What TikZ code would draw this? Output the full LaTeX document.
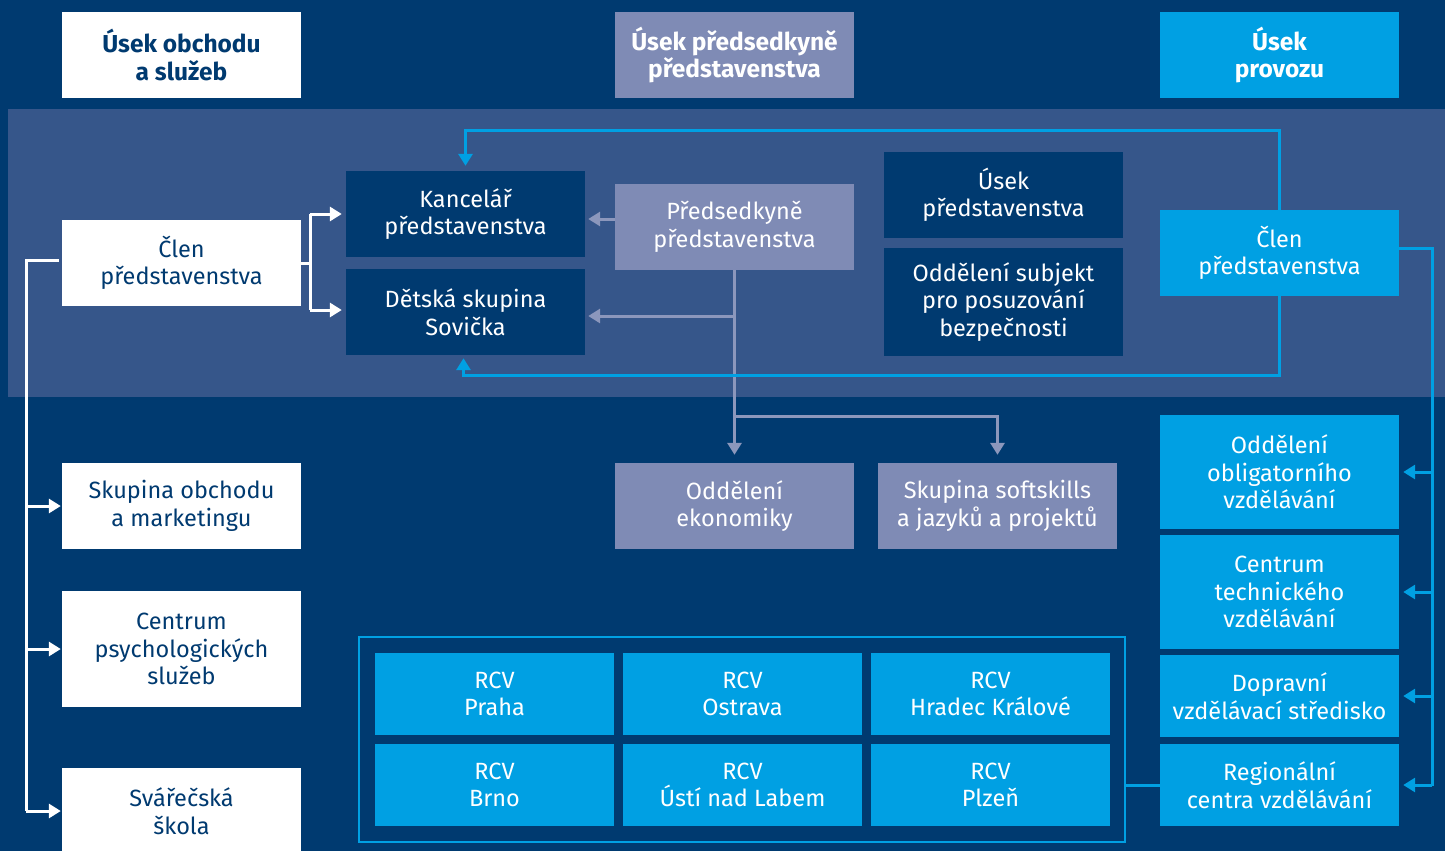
\documentclass[tikz,border=0pt]{standalone}
\usepackage{fontspec}
\setmainfont{Fira Sans}
\usetikzlibrary{arrows.meta}

\definecolor{navy}{RGB}{0,58,112}
\definecolor{band}{RGB}{54,86,138}
\definecolor{lilac}{RGB}{127,139,181}
\definecolor{sky}{RGB}{0,160,227}

\tikzset{
	box/.style={rectangle, minimum width=239pt, minimum height=86pt, inner sep=0pt, align=center, font=\fontsize{23.5}{27.5}\selectfont},
	whitebox/.style={box, fill=white, text=navy},
	navybox/.style={box, fill=navy, text=white},
	lilacbox/.style={box, fill=lilac, text=white},
	skybox/.style={box, fill=sky, text=white},
	headbox/.style={font=\bfseries\fontsize{24.5}{27.5}\selectfont},
	wline/.style={draw=white, line width=3pt},
	gline/.style={draw=lilac!90!white, line width=3pt},
	bline/.style={draw=sky, line width=3pt},
	arr/.style={-{Triangle[length=12pt,width=14pt]}}}

\begin{document}
\begin{tikzpicture}[x=1pt,y=-1pt]
	\useasboundingbox (0,0) rectangle (1445,851);
	\clip (0,0) rectangle (1445,851);

	% background and band
	\fill [navy] (0,0) rectangle (1445,851);
	\fill [band] (8,109) rectangle (1445,397);

	% headers
	\node [whitebox, headbox] (hObch) at (181.5,55) {Úsek obchodu\\a služeb};
	\node [lilacbox, headbox] (hPred) at (734.5,55) {Úsek předsedkyně\\představenstva};
	\node [skybox, headbox] (hProv) at (1279.5,55) {Úsek\\provozu};

	% band boxes
	\node [whitebox] (clenL) at (181.5,263) {Člen\\představenstva};
	\node [navybox] (kanc) at (465.5,214) {Kancelář\\představenstva};
	\node [navybox] (deti) at (465.5,312) {Dětská skupina\\Sovička};
	\node [lilacbox] (pred) at (734.5,227) {Předsedkyně\\představenstva};
	\node [navybox] (usekP) at (1003.5,195) {Úsek\\představenstva};
	\node [navybox, minimum height=108pt] (odSub) at (1003.5,302) {Oddělení subjekt\\pro posuzování\\bezpečnosti};
	\node [skybox] (clenR) at (1279.5,253) {Člen\\představenstva};

	% lower middle
	\node [lilacbox] (oEko) at (734.5,506) {Oddělení\\ekonomiky};
	\node [lilacbox] (softs) at (997.5,506) {Skupina softskills\\a jazyků a projektů};

	% left column
	\node [whitebox] (skObch) at (181.5,506) {Skupina obchodu\\a marketingu};
	\node [whitebox, minimum height=116pt] (cPsy) at (181.5,649) {Centrum\\psychologických\\služeb};
	\node [whitebox] (svar) at (181.5,811) {Svářečská\\škola};

	% right column
	\node [skybox, minimum height=114pt] (oObl) at (1279.5,472) {Oddělení\\obligatorního\\vzdělávání};
	\node [skybox, minimum height=114pt] (cTech) at (1279.5,592) {Centrum\\technického\\vzdělávání};
	\node [skybox, minimum height=82pt] (dopr) at (1279.5,696) {Dopravní\\vzdělávací středisko};
	\node [skybox, minimum height=82pt] (regC) at (1279.5,785) {Regionální\\centra vzdělávání};

	% RCV
	\node [draw=sky, line width=2.5pt, minimum width=766pt, minimum height=205pt, inner sep=0pt] (rcvFrame) at (742,739.5) {};
	\node [skybox, minimum height=82pt] (rcvPraha) at (494.5,694) {RCV\\Praha};
	\node [skybox, minimum height=82pt] (rcvOstrava) at (742.5,694) {RCV\\Ostrava};
	\node [skybox, minimum height=82pt] (rcvHradec) at (990.5,694) {RCV\\Hradec Králové};
	\node [skybox, minimum height=82pt] (rcvBrno) at (494.5,785) {RCV\\Brno};
	\node [skybox, minimum height=82pt] (rcvUsti) at (742.5,785) {RCV\\Ústí nad Labem};
	\node [skybox, minimum height=82pt] (rcvPlzen) at (990.5,785) {RCV\\Plzeň};

	% white connectors
	\coordinate (lbus) at (26,0);
	\draw [wline] ([shift={(-3,0)},yshift=3]clenL.west) -- ([yshift=3]lbus |- clenL.west) -- (lbus |- svar.west);
	\foreach \n in {skObch,cPsy,svar}
		\draw [wline, arr, shorten >=1pt] (lbus |- \n.west) -- (\n.west);
	\coordinate (cbus) at (310,0);
	\draw [wline] (clenL.east) -- (cbus |- clenL.east);
	\draw [wline] (cbus |- kanc.west) -- ([yshift=2]cbus |- deti.west);
	\draw [wline, arr, shorten >=4pt] (cbus |- kanc.west) -- (kanc.west);
	\draw [wline, arr, shorten >=4pt] ([yshift=2]cbus |- deti.west) -- ([yshift=2]deti.west);

	% lilac connectors
	\draw [gline, arr, shorten >=3pt] ([yshift=8]pred.west) -- ([yshift=8]pred.west -| kanc.east);
	\draw [gline, arr, shorten >=8pt] (pred.south) -- (oEko.north);
	\draw [gline, arr, shorten >=3pt] ([yshift=-4]pred.south |- deti.east) -- ([yshift=-4]deti.east);
	\coordinate (gsplit) at ([yshift=-146]pred.south);
	\draw [gline, arr, shorten >=8pt] (gsplit) -| (softs.north);

	% blue connectors
	\draw [bline, arr, shorten >=5pt] (clenR.north) -- ++(0,-79) -| (kanc.north);
	\draw [bline, arr, shorten >=3pt] (clenR.south) -- ++(0,79) -| ([xshift=-2]deti.south);
	\coordinate (rbus) at (1432,0);
	\draw [bline] ([yshift=5]clenR.east) -| ([yshift=-1]rbus |- regC.east);
	\foreach \n in {oObl,cTech,dopr,regC}
		\draw [bline, arr, shorten >=4pt] (rbus |- \n.east) -- (\n.east);
	\draw [bline] (regC.west) -- (rcvFrame.east |- regC.west);

\end{tikzpicture}
\end{document}
